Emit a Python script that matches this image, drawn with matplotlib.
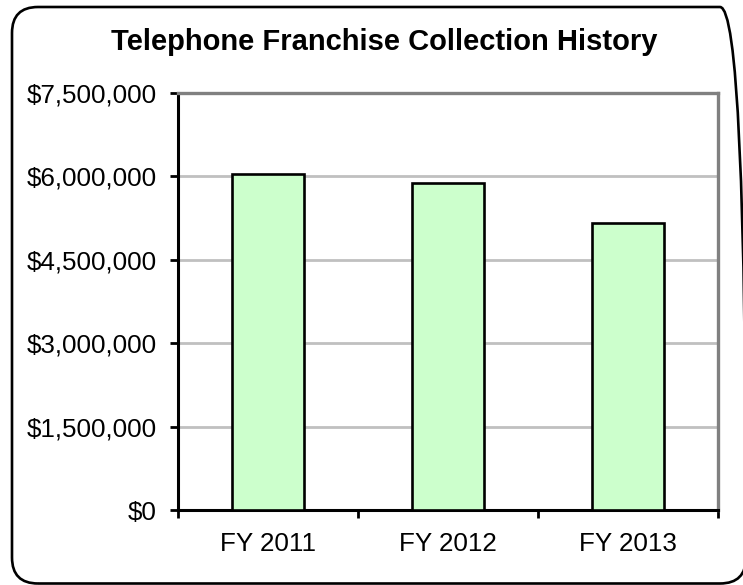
import matplotlib.pyplot as plt
from matplotlib.patches import FancyBboxPatch
from matplotlib.ticker import FuncFormatter, FixedLocator

# collections by fiscal year
years = ["FY 2011", "FY 2012", "FY 2013"]
collections = [6033000, 5882000, 5164000]
y_ticks = [0, 1500000, 3000000, 4500000, 6000000, 7500000]

W, H = 743, 585
fig = plt.figure(figsize=(W / 100, H / 100), dpi=100)
plt.rcParams['font.family'] = ['Liberation Sans', 'DejaVu Sans']

# rounded outer frame, drawn in pixel coordinates
frame = FancyBboxPatch((12, H - 583.5), 746 - 12, 583.5 - 7,
                       boxstyle="round,pad=0,rounding_size=26",
                       transform=None, fill=False,
                       edgecolor="black", linewidth=1.9, clip_on=False)
fig.patches.append(frame)

ax = fig.add_axes([178.3 / W, (H - 510) / H, (717.7 - 178.3) / W, (510 - 92.7) / H])

x = range(len(years))
ax.bar(x, collections, width=0.4, color="#CCFFCC", edgecolor="black", linewidth=1.9, zorder=3)

ax.set_xlim(-0.5, 2.5)
ax.set_ylim(0, 7500000)
ax.set_yticks(y_ticks)
ax.yaxis.set_major_formatter(FuncFormatter(lambda v, p: "${:,.0f}".format(v)))
ax.grid(axis="y", color="#C0C0C0", linewidth=2, zorder=0)
ax.set_axisbelow(True)

# category labels centered, tick marks between categories
ax.set_xticks(list(x))
ax.set_xticklabels(years)
ax.xaxis.set_minor_locator(FixedLocator([-0.5, 0.5, 1.5, 2.5]))
ax.tick_params(axis="x", which="major", length=0, pad=16, labelsize=18.7)
ax.tick_params(axis="x", which="minor", length=6, width=2, color="black")
ax.tick_params(axis="y", length=5.5, width=2, pad=10, labelsize=18.7, color="black")

for side in ("left", "bottom"):
    ax.spines[side].set_color("black")
    ax.spines[side].set_linewidth(2.2)
for side in ("top", "right"):
    ax.spines[side].set_color("#808080")
    ax.spines[side].set_linewidth(2.4)

fig.text(384 / W, (H - 42) / H, "Telephone Franchise Collection History",
         ha="center", va="center", fontsize=21, fontweight="bold")

fig.savefig("out.png", dpi=100)
